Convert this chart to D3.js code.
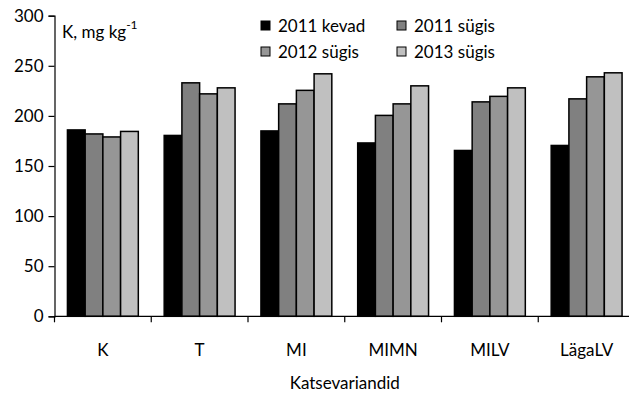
<!DOCTYPE html>
<html><head><meta charset="utf-8">
<script src="https://cdn.jsdelivr.net/npm/d3@7"></script>
<style>body{margin:0;background:#fff}svg{display:block}text{font-family:Lato,"Open Sans",sans-serif;fill:#000}</style>
</head><body>
<svg id="c" width="629" height="395"></svg>
<script>
const categories = ["K","T","MI","MIMN","MILV","LägaLV"];
const seriesNames = ["2011 kevad","2011 sügis","2012 sügis","2013 sügis"];
const kevad2011 = [186,180.5,185,173,165.5,170.5];
const sygis2011 = [182,233,212,200.5,214,217];
const sygis2012 = [179,222,225.5,212,219.5,239];
const sygis2013 = [184.5,228,242,230,228,243];
const yTicks = [0,50,100,150,200,250,300];
const colors = ["#000000","#808080","#969696","#c0c0c0"];
const series = [kevad2011,sygis2011,sygis2012,sygis2013];

(function(){
const svg = d3.select("#c");
const pLeft=54.5, pRight=635, pTop=15.7, pBottom=316.3;
const fs = "17px";
const x = d3.scaleBand().domain(categories).range([pLeft,pRight]).paddingInner(0).paddingOuter(0);
const xi = d3.scaleBand().domain(d3.range(4)).range([0,x.bandwidth()]).paddingOuter(0.73).paddingInner(0);
const y = d3.scaleLinear().domain([0,300]).range([pBottom,pTop]);

categories.forEach((c,ci)=>{
  series.forEach((s,si)=>{
    svg.append("rect")
      .attr("x", x(c)+xi(si)).attr("y", y(s[ci]))
      .attr("width", xi.bandwidth()).attr("height", y(0)-y(s[ci]))
      .attr("fill", colors[si]).attr("stroke","#000").attr("stroke-width",1.5);
  });
});

const ya = svg.append("g").attr("transform",`translate(${pLeft},0)`)
  .call(d3.axisLeft(y).tickValues(yTicks).tickSize(6).tickPadding(5));
ya.select(".domain").attr("stroke","#000").attr("stroke-width",1.2);
ya.selectAll(".tick line").attr("stroke","#000").attr("stroke-width",1.2);
ya.selectAll("text").style("font-size",fs).style("font-family","Lato").attr("fill","#000");

const xa = svg.append("g").attr("transform",`translate(0,${pBottom})`);
xa.append("line").attr("x1",pLeft).attr("x2",pRight).attr("y1",0).attr("y2",0).attr("stroke","#000").attr("stroke-width",1.2);
d3.range(categories.length+1).forEach(i=>{
  const xx = pLeft + i*x.step();
  xa.append("line").attr("x1",xx).attr("x2",xx).attr("y1",0).attr("y2",6).attr("stroke","#000").attr("stroke-width",1.2);
});
categories.forEach(c=>{
  xa.append("text").attr("x",x(c)+x.bandwidth()/2).attr("y",40).attr("text-anchor","middle").style("font-size",fs).text(c);
});
svg.append("text").attr("x",(pLeft+pRight)/2).attr("y",389).attr("text-anchor","middle").style("font-size",fs).text("Katsevariandid");

const yl = svg.append("text").attr("x",62).attr("y",38).style("font-size",fs);
yl.append("tspan").text("K, mg kg");
yl.append("tspan").attr("dy",-9).style("font-size","12px").text("-1");

const legPos = [[261,21],[397,21],[261,47],[397,47]];
seriesNames.forEach((n,i)=>{
  const [lx,ly]=legPos[i];
  svg.append("rect").attr("x",lx).attr("y",ly).attr("width",9).attr("height",9).attr("fill",colors[i]).attr("stroke","#000").attr("stroke-width",1);
  svg.append("text").attr("x",lx+17).attr("y",ly+11).style("font-size",fs).text(n);
});
})();
</script>
</body></html>
